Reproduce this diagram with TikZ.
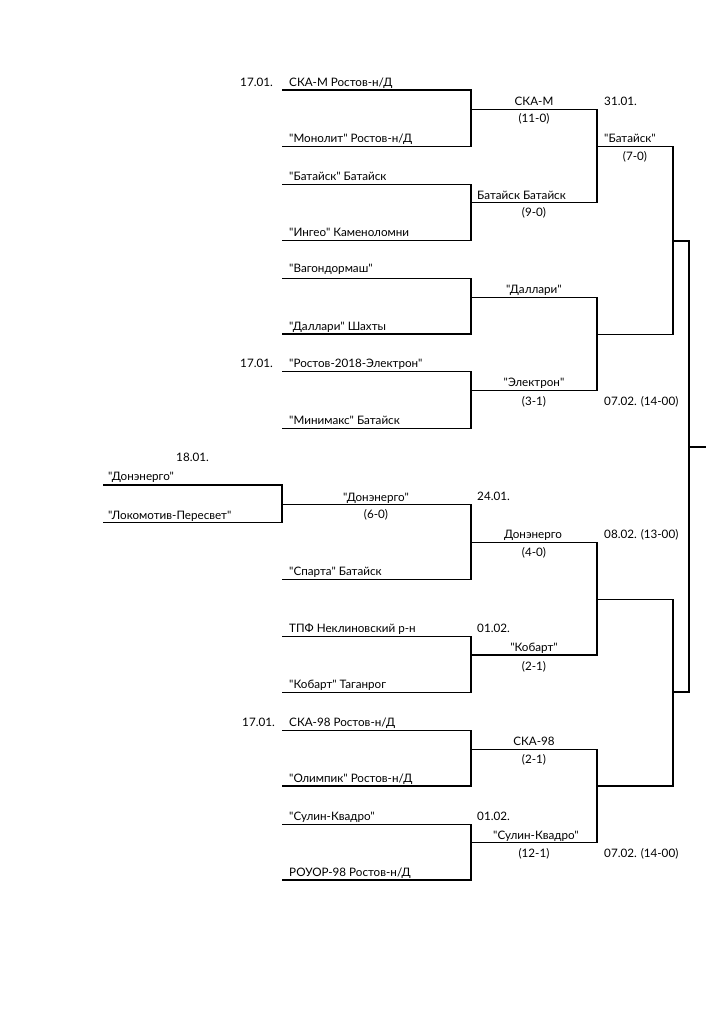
\documentclass[tikz,border=0pt]{standalone}
\usepackage{fontspec}
\setmainfont{Lato}[Ligatures=TeXOff]
\begin{document}
\begin{tikzpicture}[x=0.8235pt,y=-0.8235pt,
  br/.style={line width=0.9pt,line join=miter},
  lab/.style={anchor=base west,inner sep=0pt,font=\fontsize{9.6}{12}\selectfont},
  cen/.style={anchor=base,inner sep=0pt,font=\fontsize{9.6}{12}\selectfont}]
\useasboundingbox[fill=white] (0,0) rectangle (723,1024);
% round 1
\draw[br] (282,90) -- (471,90) -- (471,146.7) -- (282,146.7);
\draw[br] (282,184.3) -- (471,184.3) -- (471,240.3) -- (282,240.3);
\draw[br] (282,278.3) -- (471,278.3) -- (471,334) -- (282,334);
\draw[br] (282,371.7) -- (471,371.7) -- (471,428.3) -- (282,428.3);
\draw[br] (103,485) -- (282,485) -- (282,522.7) -- (103,522.7);
\draw[br] (282,504.3) -- (471,504.3) -- (471,579.3) -- (282,579.3);
\draw[br] (282,636.7) -- (471,636.7) -- (471,692.3) -- (282,692.3);
\draw[br] (282,730.7) -- (471,730.7) -- (471,786) -- (282,786);
\draw[br] (282,824.3) -- (471,824.3) -- (471,880) -- (282,880);
% round 2
\draw[br] (471,109.3) -- (597,109.3) -- (597,202.7) -- (471,202.7);
\draw[br] (471,297.3) -- (597,297.3) -- (597,390.7) -- (471,390.7);
\draw[br] (471,542.7) -- (597,542.7) -- (597,655) -- (471,655);
\draw[br] (471,749.3) -- (597,749.3) -- (597,842.7) -- (471,842.7);
% round 3
\draw[br] (597,146.7) -- (673,146.7) -- (673,334.3) -- (597,334.3);
\draw[br] (597,599.3) -- (673,599.3) -- (673,786) -- (597,786);
% final
\draw[br] (673,241) -- (689,241) -- (689,692) -- (673,692);
\draw[br] (689,447) -- (706,447);
% teams
\node[lab] (t1) at (289,86.7) {СКА-М Ростов-н/Д};
\node[lab] (t2) at (289,142.7) {"Монолит" Ростов-н/Д};
\node[lab] (t3) at (289,180) {"Батайск" Батайск};
\node[lab] (t4) at (289,236) {"Ингео" Каменоломни};
\node[lab] (t5) at (289,272.7) {"Вагондормаш"};
\node[lab] (t6) at (289,330) {"Даллари" Шахты};
\node[lab] (t7) at (289,367.3) {"Ростов-2018-Электрон"};
\node[lab] (t8) at (289,424) {"Минимакс" Батайск};
\node[lab] (t9) at (108,480) {"Донэнерго"};
\node[lab] (t10) at (108,519) {"Локомотив-Пересвет"};
\node[lab] (t11) at (289,575) {"Спарта" Батайск};
\node[lab] (t12) at (289,632.7) {ТПФ Неклиновский р-н};
\node[lab] (t13) at (289,688.3) {"Кобарт" Таганрог};
\node[lab] (t14) at (289,726.7) {СКА-98 Ростов-н/Д};
\node[lab] (t15) at (289,782.7) {"Олимпик" Ростов-н/Д};
\node[lab] (t16) at (289,820) {"Сулин-Квадро"};
\node[lab] (t17) at (289,876) {РОУОР-98 Ростов-н/Д};
% dates
\node[lab] (d1) at (240,86.7) {17.01.};
\node[lab] (d2) at (240,367.3) {17.01.};
\node[lab] (d3) at (242,726.7) {17.01.};
\node[lab] (d4) at (176,461.7) {18.01.};
\node[lab] (d5) at (477,500) {24.01.};
\node[lab] (d6) at (477,632.7) {01.02.};
\node[lab] (d7) at (477,820) {01.02.};
\node[lab] (d8) at (604,105) {31.01.};
% round 2 winners
\node[cen] (w1) at (534,105.3) {СКА-М};
\node[cen] (s1) at (534,122.7) {(11-0)};
\node[lab] (w2) at (477,199) {Батайск Батайск};
\node[cen] (s2) at (534,216.5) {(9-0)};
\node[cen] (w3) at (534,293.3) {"Даллари"};
\node[cen] (w4) at (534,386.7) {"Электрон"};
\node[cen] (s4) at (534,405) {(3-1)};
\node[cen] (w5) at (376,501) {"Донэнерго"};
\node[cen] (s5) at (376,518.3) {(6-0)};
\node[cen] (w6) at (533,538.3) {Донэнерго};
\node[cen] (s6) at (534,556.7) {(4-0)};
\node[cen] (w7) at (534,651) {"Кобарт"};
\node[cen] (s7) at (534,670) {(2-1)};
\node[cen] (w8) at (534,745) {СКА-98};
\node[cen] (s8) at (534,763) {(2-1)};
\node[cen] (w9) at (536,839) {"Сулин-Квадро"};
\node[cen] (s9) at (534,857.3) {(12-1)};
% round 3
\node[lab] (w10) at (604,142.7) {"Батайск"};
\node[cen] (s10) at (635,160.7) {(7-0)};
\node[lab] (r1) at (604,405) {07.02. (14-00)};
\node[lab] (r2) at (604,538.3) {08.02. (13-00)};
\node[lab] (r3) at (604,857.3) {07.02. (14-00)};
\end{tikzpicture}
\end{document}
